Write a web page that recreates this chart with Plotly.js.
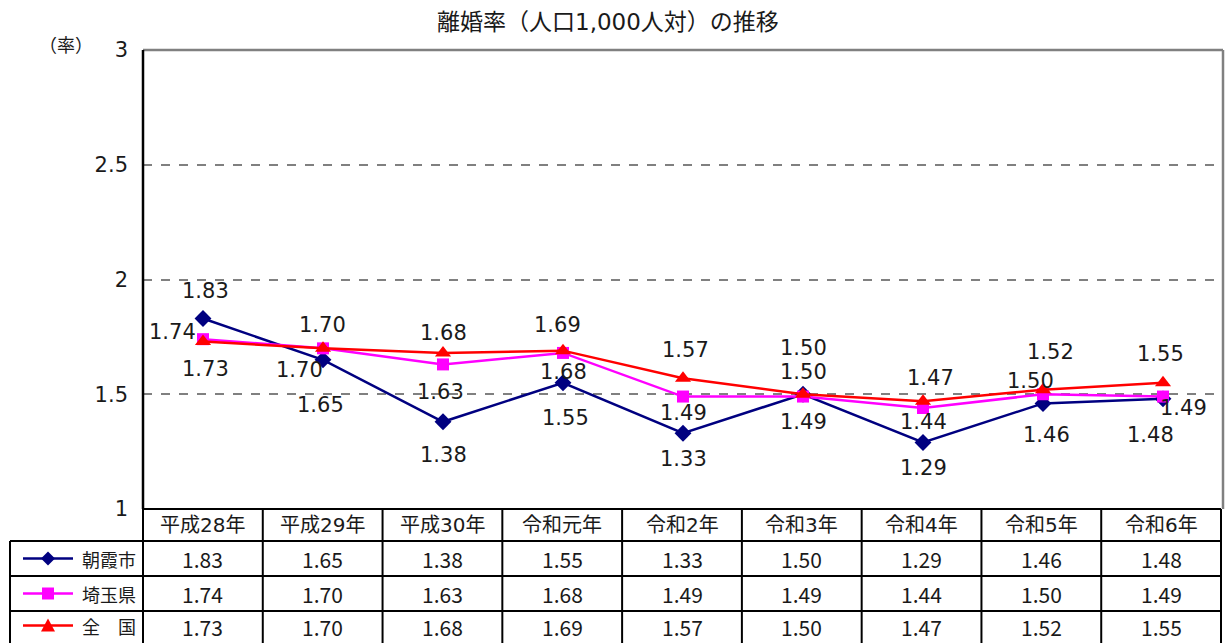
<!DOCTYPE html>
<html><head><meta charset="utf-8">
<script src="https://cdn.plot.ly/plotly-3.0.1.min.js"></script>
<style>html,body{margin:0;padding:0;background:#fff}</style>
</head><body><div id="chart" style="width:1228px;height:643px"></div>
<script>
// ---- data ----
const categories = ["平成28年","平成29年","平成30年","令和元年","令和2年","令和3年","令和4年","令和5年","令和6年"];
const seriesNames = ["朝霞市","埼玉県","全　国"];
const asaka   = [1.83,1.65,1.38,1.55,1.33,1.50,1.29,1.46,1.48];
const saitama = [1.74,1.70,1.63,1.68,1.49,1.49,1.44,1.50,1.49];
const zenkoku = [1.73,1.70,1.68,1.69,1.57,1.50,1.47,1.52,1.55];
const yTickVals = [1,1.5,2,2.5,3];
const yTickText = ["1","1.5","2","2.5","3"];
const titleText = "離婚率（人口1,000人対）の推移";
const yUnitText = "（率）";

// ---- layout constants (pixels) ----
const W=1228, H=643, L=143, R=1223, T=50, B=509;
const PW=R-L, PH=B-T;
const px = p => (p-L)/PW;
const py = p => (B-p)/PH;

const colors = ["#000080","#FF00FF","#FF0000"];
const symbols = ["diamond","square","triangle-up"];
const msizes = [13,12,14];
const series = [asaka, saitama, zenkoku];

// label offsets (dx, dy in px; dy positive = down)
const labelOff = [
  {dx:[2,-3,0,2,0,0,0,3,-13], dy:[-28,45,33,35,26,-22,26,32,36]},
  {dx:[-31,-24,-3,0,0,0,0,-13,20], dy:[-7,22,28,19,16,25,14,-13,11]},
  {dx:[2,-1,0,-6,2,0,7,7,-3], dy:[28,-23,-20,-26,-28,-46,-23,-38,-29]}
];

const numFont = "DejaVu Sans, Noto Sans CJK JP, sans-serif";
const cjkFont = "Noto Sans CJK JP, sans-serif";
const txtColor = "#1a1a1a";

const traces = series.map((s,k)=>({
  type:'scatter', mode:'lines+markers', x:categories, y:s, name:seriesNames[k],
  line:{color:colors[k], width:2.5},
  marker:{symbol:symbols[k], size:msizes[k], color:colors[k]},
  cliponaxis:false, hoverinfo:'skip'
}));

const annotations = [];
// data labels
series.forEach((s,k)=>{
  s.forEach((v,i)=>{
    annotations.push({xref:'x', yref:'y', x:categories[i], y:v, text:v.toFixed(2),
      showarrow:false, xanchor:'center', yanchor:'middle',
      xshift:labelOff[k].dx[i], yshift:-labelOff[k].dy[i],
      font:{family:numFont, size:21, color:txtColor}});
  });
});
// title & unit
annotations.push({xref:'paper', yref:'paper', x:px(608), y:py(22), text:titleText, showarrow:false,
  xanchor:'center', yanchor:'middle', font:{family:numFont, size:23, color:txtColor}});
annotations.push({xref:'paper', yref:'paper', x:px(66), y:py(44), text:yUnitText, showarrow:false,
  xanchor:'center', yanchor:'middle', font:{family:cjkFont, size:18, color:txtColor}});

// table geometry
const rowTops = [509, 541, 576, 611, 646];
const tableLeft = 10, tableRight = 1221;
const colEdge = i => L + (tableRight-L)*i/categories.length;
const shapes = [];
const blk = {color:'#000', width:2};
// plot frame: top and right gray
shapes.push({type:'line', xref:'paper', yref:'paper', x0:0, x1:px(R), y0:py(T), y1:py(T), line:{color:'#808080', width:2.5}});
shapes.push({type:'line', xref:'paper', yref:'paper', x0:px(R), x1:px(R), y0:py(T), y1:py(B), line:{color:'#808080', width:2.5}});
// header top
shapes.push({type:'line', xref:'paper', yref:'paper', x0:px(L), x1:px(tableRight), y0:py(509), y1:py(509), line:blk});
// row lines
for (let r=1;r<4;r++){
  shapes.push({type:'line', xref:'paper', yref:'paper', x0:px(tableLeft), x1:px(tableRight), y0:py(rowTops[r]), y1:py(rowTops[r]), line:blk});
}
// vertical lines
shapes.push({type:'line', xref:'paper', yref:'paper', x0:px(tableLeft), x1:px(tableLeft), y0:py(541), y1:py(646), line:blk});
for (let i=0;i<=categories.length;i++){
  const xx = px(colEdge(i));
  shapes.push({type:'line', xref:'paper', yref:'paper', x0:xx, x1:xx, y0:py(509), y1:py(646), line:blk});
}
// left axis line
shapes.push({type:'line', xref:'paper', yref:'paper', x0:0, x1:0, y0:py(T), y1:py(B), line:{color:'#000', width:2.5}});

// table text
categories.forEach((c,i)=>{
  const cx = px((colEdge(i)+colEdge(i+1))/2);
  annotations.push({xref:'paper', yref:'paper', x:cx, y:py(525), text:c, showarrow:false,
    xanchor:'center', yanchor:'middle', font:{family:numFont, size:20, color:txtColor}});
  series.forEach((s,k)=>{
    const cy = (rowTops[k+1]+rowTops[k+2])/2 + (k===2?-2:0);
    annotations.push({xref:'paper', yref:'paper', x:cx, y:py(cy), text:s[i].toFixed(2), showarrow:false,
      xanchor:'center', yanchor:'middle', font:{family:cjkFont, size:21, color:txtColor}});
  });
});
// legend cells
series.forEach((s,k)=>{
  const cy = (rowTops[k+1]+rowTops[k+2])/2 + (k===2?-3:0);
  shapes.push({type:'line', xref:'paper', yref:'paper', x0:px(23), x1:px(73), y0:py(cy), y1:py(cy), line:{color:colors[k], width:2.5}});
  const mx=48;
  let path;
  if (k===0) path = `M ${px(mx-7)} ${py(cy)} L ${px(mx)} ${py(cy-7)} L ${px(mx+7)} ${py(cy)} L ${px(mx)} ${py(cy+7)} Z`;
  else if (k===1) path = `M ${px(mx-6)} ${py(cy-6)} L ${px(mx+6)} ${py(cy-6)} L ${px(mx+6)} ${py(cy+6)} L ${px(mx-6)} ${py(cy+6)} Z`;
  else path = `M ${px(mx-7)} ${py(cy+6)} L ${px(mx)} ${py(cy-7)} L ${px(mx+7)} ${py(cy+6)} Z`;
  shapes.push({type:'path', xref:'paper', yref:'paper', path:path, fillcolor:colors[k], line:{color:colors[k], width:0}});
  annotations.push({xref:'paper', yref:'paper', x:px(138), y:py(cy), text:seriesNames[k], showarrow:false,
    xanchor:'right', yanchor:'middle', font:{family:cjkFont, size:18, color:txtColor}});
});

const layout = {
  width:W, height:H, margin:{l:L, r:W-R, t:T, b:H-B},
  paper_bgcolor:'#fff', plot_bgcolor:'#fff', showlegend:false,
  xaxis:{type:'category', range:[-0.5, categories.length-0.5], showgrid:false, zeroline:false,
    showticklabels:false, showline:false, fixedrange:true},
  yaxis:{range:[1,3], tickvals:yTickVals, ticktext:yTickText, showgrid:true,
    gridcolor:'#808080', gridwidth:2, griddash:'dash', zeroline:false, showline:false,
    ticks:'', ticklabelstandoff:14,
    tickfont:{family:numFont, size:21, color:txtColor}, fixedrange:true},
  shapes:shapes, annotations:annotations
};
Plotly.newPlot('chart', traces, layout, {staticPlot:true, displayModeBar:false});
</script></body></html>
